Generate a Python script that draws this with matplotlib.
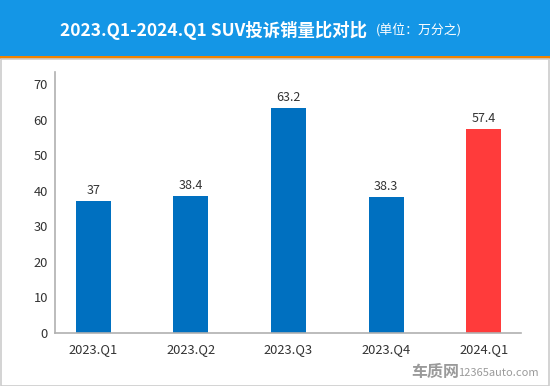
import matplotlib

matplotlib.use("Agg")
import matplotlib.pyplot as plt  # noqa: E402
from matplotlib.patches import Rectangle  # noqa: E402

plt.rcParams["font.family"] = ["Noto Sans CJK SC", "DejaVu Sans"]

quarters = ["2023.Q1", "2023.Q2", "2023.Q3", "2023.Q4", "2024.Q1"]
complaints = [37, 38.4, 63.2, 38.3, 57.4]
bar_colors = ["#0070c0", "#0070c0", "#0070c0", "#0070c0", "#ff3b3b"]
yticks = [0, 10, 20, 30, 40, 50, 60, 70]

fig = plt.figure(figsize=(5.5, 3.86), dpi=100)

# header band + orange rule + light frame
fig.patches.append(Rectangle((0, 1 - 56 / 386), 1, 56 / 386, transform=fig.transFigure,
                             facecolor="#1496e6", edgecolor="none"))
fig.patches.append(Rectangle((0, 1 - 59 / 386), 1, 3 / 386, transform=fig.transFigure,
                             facecolor="#f08300", edgecolor="none"))
fig.patches.append(Rectangle((0.5 / 550, 0.5 / 386), 548.5 / 550, 1 - 59 / 386, transform=fig.transFigure,
                             facecolor="none", edgecolor="#cccccc", lw=1.2))

fig.text(60 / 550, 1 - 30 / 386, "2023.Q1-2024.Q1 SUV投诉销量比对比", color="white",
         fontsize=12.5, fontweight="bold", ha="left", va="center")
fig.text(376 / 550, 1 - 30 / 386, "(单位：万分之)", color="white",
         fontsize=9.3, ha="left", va="center")

ax = fig.add_axes([55 / 550, 1 - 333 / 386, (521 - 55) / 550, (333 - 72) / 386])
x = range(len(quarters))
ax.bar(x, complaints, width=0.36, color=bar_colors)
for i, v in enumerate(complaints):
    ax.text(i, v + 1.2, f"{v:g}", ha="center", va="bottom", fontsize=9, color="#333333")

ax.set_xlim(-0.39, 4.38)
ax.set_ylim(0, 73.4)
ax.set_yticks(yticks)
ax.set_xticks(list(x), quarters)
ax.tick_params(length=0, labelsize=9.3, colors="#333333")
ax.tick_params(axis="y", pad=5)
ax.tick_params(axis="x", pad=7)
for s in ["top", "right"]:
    ax.spines[s].set_visible(False)
for s in ["left", "bottom"]:
    ax.spines[s].set_color("#b0b0b0")
    ax.spines[s].set_linewidth(1.2)

# watermark
fig.text(411 / 550, 1 - 372 / 386, "车质网", color="#9a9a9a", fontsize=11.5, fontweight="bold",
         ha="left", va="center")
fig.text(458 / 550, 1 - 373 / 386, "12365auto.com", color="#9a9a9a", fontsize=8,
         ha="left", va="center")

fig.savefig("out.png", dpi=100)
